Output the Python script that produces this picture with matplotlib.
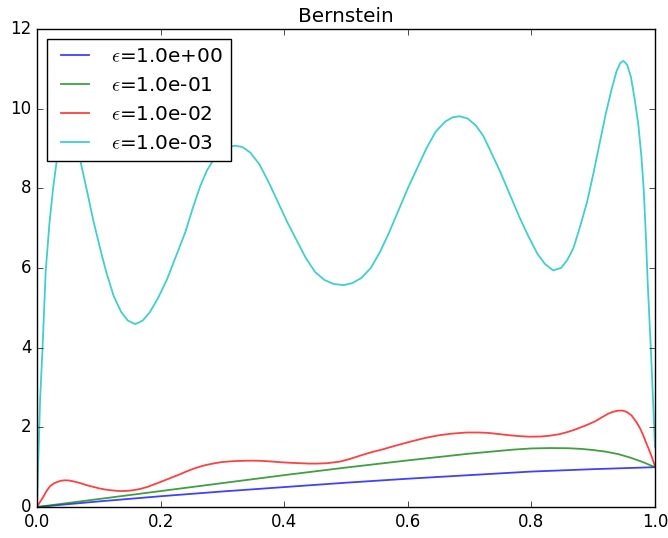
import matplotlib
matplotlib.use("Agg")
import matplotlib.pyplot as plt

plt.style.use("classic")

labels = [r"$\epsilon$=1.0e+00", r"$\epsilon$=1.0e-01", r"$\epsilon$=1.0e-02", r"$\epsilon$=1.0e-03"]
colors = ["b", "g", "r", "c"]

x_blue = [0.0, 0.1, 0.2, 0.3, 0.4, 0.5, 0.6, 0.7, 0.8, 0.9, 1.0]
y_blue = [0.0, 0.14, 0.27, 0.39, 0.50, 0.61, 0.71, 0.80, 0.89, 0.95, 1.0]

x_green = [0.0, 0.1, 0.2, 0.3, 0.4, 0.5, 0.6, 0.7, 0.77, 0.80, 0.83, 0.86, 0.88, 0.9, 0.92,
           0.94, 0.96, 0.98, 1.0]
y_green = [0.0, 0.20, 0.40, 0.60, 0.80, 0.99, 1.17, 1.34, 1.44, 1.47, 1.48, 1.475, 1.46, 1.43, 1.39,
           1.33, 1.24, 1.13, 1.0]

x_red = [0.0, 0.005, 0.01, 0.015, 0.021, 0.027, 0.033, 0.039, 0.045, 0.052, 0.06, 0.07, 0.08,
         0.09, 0.10, 0.11, 0.12, 0.13, 0.137, 0.145, 0.155, 0.166, 0.178, 0.19, 0.205, 0.218,
         0.231, 0.243, 0.255, 0.265, 0.275, 0.288, 0.30, 0.317, 0.334, 0.348, 0.361, 0.377,
         0.393, 0.41, 0.425, 0.44, 0.453, 0.47, 0.49, 0.505, 0.523, 0.54, 0.56, 0.58, 0.604,
         0.627, 0.65, 0.67, 0.695, 0.715, 0.73, 0.748, 0.765, 0.78, 0.797, 0.815, 0.83, 0.846,
         0.858, 0.87, 0.88, 0.89, 0.903, 0.915, 0.924, 0.932, 0.941, 0.948, 0.955, 0.962, 0.97,
         0.976, 0.981, 0.986, 0.99, 0.995, 1.0]
y_red = [0.0, 0.13, 0.25, 0.39, 0.52, 0.59, 0.63, 0.66, 0.67, 0.665, 0.64, 0.60, 0.55,
         0.51, 0.47, 0.44, 0.42, 0.405, 0.40, 0.405, 0.42, 0.45, 0.50, 0.57, 0.66, 0.74,
         0.82, 0.90, 0.97, 1.02, 1.06, 1.10, 1.13, 1.15, 1.16, 1.163, 1.16, 1.145,
         1.125, 1.11, 1.10, 1.09, 1.09, 1.10, 1.14, 1.20, 1.29, 1.37, 1.45, 1.54, 1.64,
         1.73, 1.80, 1.84, 1.87, 1.87, 1.86, 1.83, 1.80, 1.78, 1.765, 1.77, 1.79, 1.83,
         1.88, 1.94, 2.00, 2.06, 2.15, 2.26, 2.34, 2.39, 2.42, 2.42, 2.38, 2.30, 2.13,
         1.97, 1.80, 1.60, 1.45, 1.25, 1.02]

x_cyan = [0.0, 0.005, 0.009, 0.014, 0.02, 0.026, 0.032, 0.038, 0.044, 0.05, 0.056, 0.063, 0.07,
          0.08, 0.091, 0.102, 0.112, 0.124, 0.136, 0.147, 0.159, 0.171, 0.183, 0.196, 0.21,
          0.225, 0.24, 0.252, 0.264, 0.275, 0.287, 0.3, 0.31, 0.32, 0.332, 0.345, 0.36, 0.375,
          0.39, 0.405, 0.42, 0.435, 0.45, 0.465, 0.48, 0.496, 0.51, 0.525, 0.54, 0.555, 0.57,
          0.585, 0.6, 0.615, 0.63, 0.645, 0.66, 0.672, 0.684, 0.697, 0.71, 0.722, 0.735, 0.75,
          0.765, 0.78, 0.795, 0.81, 0.822, 0.835, 0.848, 0.858, 0.868, 0.878, 0.89, 0.90,
          0.91, 0.92, 0.93, 0.938, 0.944, 0.949, 0.955, 0.961, 0.967, 0.973, 0.978, 0.982,
          0.9855, 0.988, 0.991, 0.9935, 1.0]
y_cyan = [0.0, 2.7, 4.0, 5.9, 7.1, 8.0, 8.7, 9.3, 9.6, 9.7, 9.6, 9.2, 8.7,
          8.0, 7.2, 6.5, 5.9, 5.3, 4.9, 4.68, 4.59, 4.68, 4.9, 5.25, 5.7,
          6.3, 6.9, 7.5, 8.05, 8.45, 8.75, 8.96, 9.04, 9.07, 9.04, 8.9, 8.6, 8.15,
          7.65, 7.15, 6.7, 6.25, 5.9, 5.7, 5.6, 5.57, 5.62, 5.75, 6.0, 6.4, 6.9,
          7.45, 8.0, 8.5, 9.0, 9.42, 9.67, 9.78, 9.81, 9.75, 9.58, 9.32, 8.9, 8.4,
          7.85, 7.3, 6.8, 6.35, 6.1, 5.94, 6.0, 6.2, 6.5, 7.0, 7.65, 8.35,
          9.1, 9.85, 10.5, 10.95, 11.15, 11.2, 11.1, 10.8, 10.25, 9.6, 8.8, 7.9,
          6.7, 5.7, 4.7, 3.9, 1.5]

xs = [x_blue, x_green, x_red, x_cyan]
ys = [y_blue, y_green, y_red, y_cyan]

fig = plt.figure(figsize=(6.68, 5.38), dpi=100, facecolor="white")
ax = fig.add_axes([37 / 668, 1 - 507 / 538, 618 / 668, 478 / 538])
for xv, yv, c, lab in zip(xs, ys, colors, labels):
    ax.plot(xv, yv, color=c, alpha=0.75, lw=1.3, label=lab)

ax.set_xlim(0, 1)
ax.set_ylim(0, 12)
ax.set_xticks([0.0, 0.2, 0.4, 0.6, 0.8, 1.0])
ax.set_yticks([0, 2, 4, 6, 8, 10, 12])
ax.set_title("Bernstein", fontsize=14.4)
ax.tick_params(labelsize=12)
ax.legend(loc="upper left", fontsize=14.4)

fig.savefig("out.png", dpi=100, facecolor="white")
